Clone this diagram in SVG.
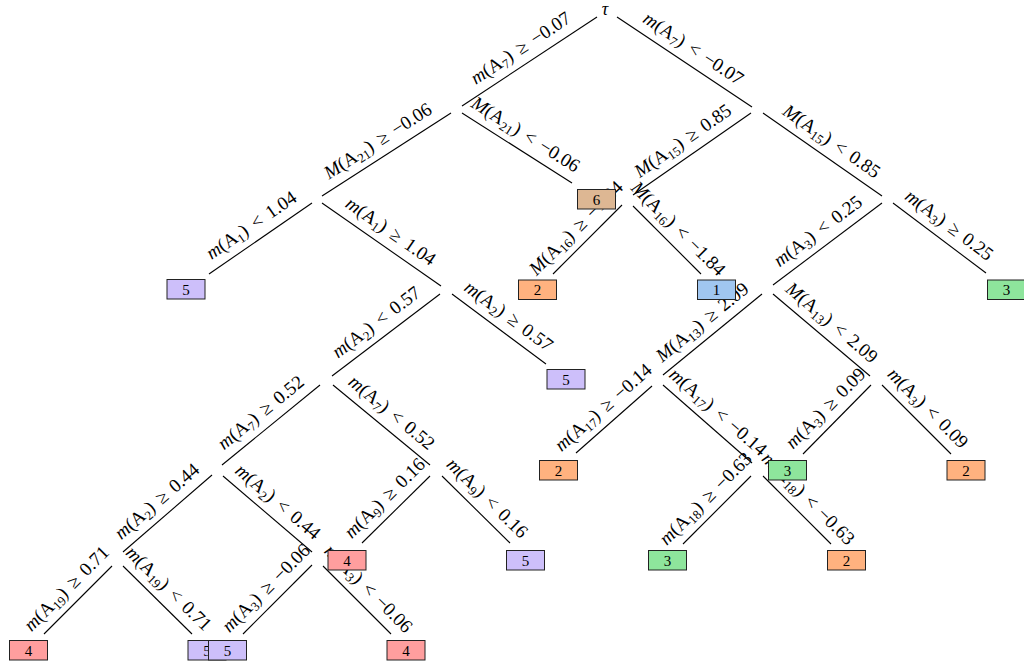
<svg xmlns="http://www.w3.org/2000/svg" width="1024" height="666" viewBox="0 0 1024 666">
<defs>
<style>
.e line{stroke:#000;stroke-width:1.1;fill:none}
.e text{font-family:"Liberation Serif",serif;font-size:19px;text-anchor:middle;fill:#000;word-spacing:2.5px}
.i{font-style:italic}
.s{font-size:13px}
.lf rect{stroke:#222;stroke-width:1}
.lf text{font-family:"Liberation Serif",serif;font-size:15px;text-anchor:middle;fill:#000}
.c1{fill:#a0c6f0}.c2{fill:#ffb27f}.c3{fill:#8ee59c}.c4{fill:#ff9e9e}.c5{fill:#cdbffa}.c6{fill:#ddb793}
</style>
</defs>
<rect width="1024" height="666" fill="#fff"/>
<g id="connectors" class="e">
<line x1="462" y1="106" x2="597" y2="17"/>
<text transform="translate(529.5,61.5) rotate(-33.4)" y="-10"><tspan class="i">m</tspan>(A<tspan class="s" dy="3.5">7</tspan><tspan dy="-3.5">)</tspan> ≥ −0.07</text>
<line x1="617" y1="17" x2="752" y2="107"/>
<text transform="translate(684.5,62) rotate(33.69)" y="-10"><tspan class="i">m</tspan>(A<tspan class="s" dy="3.5">7</tspan><tspan dy="-3.5">)</tspan> &lt; −0.07</text>
<line x1="322" y1="196" x2="451" y2="113"/>
<text transform="translate(386.5,154.5) rotate(-32.76)" y="-10"><tspan class="i">M</tspan>(A<tspan class="s" dy="3.5">21</tspan><tspan dy="-3.5">)</tspan> ≥ −0.06</text>
<line x1="462" y1="113" x2="572" y2="183"/>
<text transform="translate(517,148) rotate(32.47)" y="-10"><tspan class="i">M</tspan>(A<tspan class="s" dy="3.5">21</tspan><tspan dy="-3.5">)</tspan> &lt; −0.06</text>
<line x1="633" y1="195" x2="751" y2="113"/>
<text transform="translate(692,154) rotate(-34.79)" y="-10"><tspan class="i">M</tspan>(A<tspan class="s" dy="3.5">15</tspan><tspan dy="-3.5">)</tspan> ≥ 0.85</text>
<line x1="763" y1="113" x2="882" y2="196"/>
<text transform="translate(822.5,154.5) rotate(34.9)" y="-10"><tspan class="i">M</tspan>(A<tspan class="s" dy="3.5">15</tspan><tspan dy="-3.5">)</tspan> &lt; 0.85</text>
<line x1="209" y1="274" x2="312" y2="203"/>
<text transform="translate(260.5,238.5) rotate(-34.58)" y="-10"><tspan class="i">m</tspan>(A<tspan class="s" dy="3.5">1</tspan><tspan dy="-3.5">)</tspan> &lt; 1.04</text>
<line x1="322" y1="203" x2="441" y2="286"/>
<text transform="translate(381.5,244.5) rotate(34.9)" y="-10"><tspan class="i">m</tspan>(A<tspan class="s" dy="3.5">1</tspan><tspan dy="-3.5">)</tspan> ≥ 1.04</text>
<line x1="553" y1="274" x2="622" y2="205"/>
<text transform="translate(587.5,239.5) rotate(-45)" y="-10"><tspan class="i">M</tspan>(A<tspan class="s" dy="3.5">16</tspan><tspan dy="-3.5">)</tspan> ≥ −1.84</text>
<line x1="633" y1="206" x2="701" y2="274"/>
<text transform="translate(667,240) rotate(45)" y="-10"><tspan class="i">M</tspan>(A<tspan class="s" dy="3.5">16</tspan><tspan dy="-3.5">)</tspan> &lt; −1.84</text>
<line x1="773" y1="285" x2="882" y2="203"/>
<text transform="translate(827.5,244) rotate(-36.96)" y="-10"><tspan class="i">m</tspan>(A<tspan class="s" dy="3.5">3</tspan><tspan dy="-3.5">)</tspan> &lt; 0.25</text>
<line x1="893" y1="203" x2="986" y2="273"/>
<text transform="translate(939.5,238) rotate(36.97)" y="-10"><tspan class="i">m</tspan>(A<tspan class="s" dy="3.5">3</tspan><tspan dy="-3.5">)</tspan> ≥ 0.25</text>
<line x1="332" y1="376" x2="440" y2="294"/>
<text transform="translate(386,335) rotate(-37.21)" y="-10"><tspan class="i">m</tspan>(A<tspan class="s" dy="3.5">2</tspan><tspan dy="-3.5">)</tspan> &lt; 0.57</text>
<line x1="452" y1="294" x2="546" y2="364"/>
<text transform="translate(499,329) rotate(36.68)" y="-10"><tspan class="i">m</tspan>(A<tspan class="s" dy="3.5">2</tspan><tspan dy="-3.5">)</tspan> ≥ 0.57</text>
<line x1="663" y1="375" x2="762" y2="294"/>
<text transform="translate(712.5,334.5) rotate(-39.29)" y="-10"><tspan class="i">M</tspan>(A<tspan class="s" dy="3.5">13</tspan><tspan dy="-3.5">)</tspan> ≥ 2.09</text>
<line x1="773" y1="294" x2="870" y2="376"/>
<text transform="translate(821.5,335) rotate(40.21)" y="-10"><tspan class="i">M</tspan>(A<tspan class="s" dy="3.5">13</tspan><tspan dy="-3.5">)</tspan> &lt; 2.09</text>
<line x1="576" y1="453" x2="652" y2="386"/>
<text transform="translate(614,419.5) rotate(-41.4)" y="-10"><tspan class="i">m</tspan>(A<tspan class="s" dy="3.5">17</tspan><tspan dy="-3.5">)</tspan> ≥ −0.14</text>
<line x1="663" y1="385" x2="752" y2="463"/>
<text transform="translate(707.5,424) rotate(41.23)" y="-10"><tspan class="i">m</tspan>(A<tspan class="s" dy="3.5">17</tspan><tspan dy="-3.5">)</tspan> &lt; −0.14</text>
<line x1="803" y1="454" x2="871" y2="385"/>
<text transform="translate(837,419.5) rotate(-45.42)" y="-10"><tspan class="i">m</tspan>(A<tspan class="s" dy="3.5">3</tspan><tspan dy="-3.5">)</tspan> ≥ 0.09</text>
<line x1="882" y1="385" x2="951" y2="454"/>
<text transform="translate(916.5,419.5) rotate(45)" y="-10"><tspan class="i">m</tspan>(A<tspan class="s" dy="3.5">3</tspan><tspan dy="-3.5">)</tspan> &lt; 0.09</text>
<line x1="222" y1="465" x2="320" y2="385"/>
<text transform="translate(271,425) rotate(-39.23)" y="-10"><tspan class="i">m</tspan>(A<tspan class="s" dy="3.5">7</tspan><tspan dy="-3.5">)</tspan> ≥ 0.52</text>
<line x1="333" y1="385" x2="430" y2="465"/>
<text transform="translate(381.5,425) rotate(39.51)" y="-10"><tspan class="i">m</tspan>(A<tspan class="s" dy="3.5">7</tspan><tspan dy="-3.5">)</tspan> &lt; 0.52</text>
<line x1="362" y1="543" x2="430" y2="476"/>
<text transform="translate(396,509.5) rotate(-44.58)" y="-10"><tspan class="i">m</tspan>(A<tspan class="s" dy="3.5">9</tspan><tspan dy="-3.5">)</tspan> ≥ 0.16</text>
<line x1="442" y1="476" x2="510" y2="543"/>
<text transform="translate(476,509.5) rotate(44.58)" y="-10"><tspan class="i">m</tspan>(A<tspan class="s" dy="3.5">9</tspan><tspan dy="-3.5">)</tspan> &lt; 0.16</text>
<line x1="123" y1="552" x2="212" y2="475"/>
<text transform="translate(167.5,513.5) rotate(-40.87)" y="-10"><tspan class="i">m</tspan>(A<tspan class="s" dy="3.5">2</tspan><tspan dy="-3.5">)</tspan> ≥ 0.44</text>
<line x1="223" y1="476" x2="312" y2="552"/>
<text transform="translate(267.5,514) rotate(40.5)" y="-10"><tspan class="i">m</tspan>(A<tspan class="s" dy="3.5">2</tspan><tspan dy="-3.5">)</tspan> &lt; 0.44</text>
<line x1="44" y1="634" x2="112" y2="566"/>
<text transform="translate(78,600) rotate(-45)" y="-10"><tspan class="i">m</tspan>(A<tspan class="s" dy="3.5">19</tspan><tspan dy="-3.5">)</tspan> ≥ 0.71</text>
<line x1="123" y1="566" x2="192" y2="634"/>
<text transform="translate(157.5,600) rotate(44.58)" y="-10"><tspan class="i">m</tspan>(A<tspan class="s" dy="3.5">19</tspan><tspan dy="-3.5">)</tspan> &lt; 0.71</text>
<line x1="243" y1="634" x2="312" y2="565"/>
<text transform="translate(277.5,599.5) rotate(-45)" y="-10"><tspan class="i">m</tspan>(A<tspan class="s" dy="3.5">3</tspan><tspan dy="-3.5">)</tspan> ≥ −0.06</text>
<line x1="323" y1="566" x2="391" y2="634"/>
<text transform="translate(357,600) rotate(45)" y="-10"><tspan class="i">m</tspan>(A<tspan class="s" dy="3.5">3</tspan><tspan dy="-3.5">)</tspan> &lt; −0.06</text>
<line x1="683" y1="544" x2="751" y2="476"/>
<text transform="translate(717,510) rotate(-45)" y="-10"><tspan class="i">m</tspan>(A<tspan class="s" dy="3.5">18</tspan><tspan dy="-3.5">)</tspan> ≥ −0.63</text>
<line x1="763" y1="476" x2="831" y2="544"/>
<text transform="translate(797,510) rotate(45)" y="-10"><tspan class="i">m</tspan>(A<tspan class="s" dy="3.5">18</tspan><tspan dy="-3.5">)</tspan> &lt; −0.63</text>
</g>
<g id="root"><text x="605" y="15" font-family="Liberation Serif, serif" font-size="18" font-style="italic" text-anchor="middle">τ</text></g>
<g id="leaf-a" class="lf"><rect class="c5" x="167" y="279.5" width="38" height="19.5"/><text x="186" y="294.5">5</text></g>
<g id="leaf-b" class="lf"><rect class="c6" x="577.5" y="189.5" width="38" height="19.5"/><text x="596.5" y="204.5">6</text></g>
<g id="leaf-c" class="lf"><rect class="c2" x="518.5" y="280" width="38" height="19.5"/><text x="537.5" y="295">2</text></g>
<g id="leaf-d" class="lf"><rect class="c1" x="697.5" y="280" width="38" height="19.5"/><text x="716.5" y="295">1</text></g>
<g id="leaf-e" class="lf"><rect class="c3" x="987.5" y="280" width="38" height="19.5"/><text x="1006.5" y="295">3</text></g>
<g id="leaf-f" class="lf"><rect class="c5" x="547" y="369.5" width="38" height="19.5"/><text x="566" y="384.5">5</text></g>
<g id="leaf-g" class="lf"><rect class="c2" x="539.5" y="460.5" width="38" height="19.5"/><text x="558.5" y="475.5">2</text></g>
<g id="leaf-h" class="lf"><rect class="c3" x="768.5" y="460.5" width="38" height="19.5"/><text x="787.5" y="475.5">3</text></g>
<g id="leaf-i" class="lf"><rect class="c2" x="947" y="460.5" width="38" height="19.5"/><text x="966" y="475.5">2</text></g>
<g id="leaf-j" class="lf"><rect class="c4" x="328" y="550.5" width="38" height="19.5"/><text x="347" y="565.5">4</text></g>
<g id="leaf-k" class="lf"><rect class="c5" x="506.5" y="550.5" width="38" height="19.5"/><text x="525.5" y="565.5">5</text></g>
<g id="leaf-l" class="lf"><rect class="c3" x="648.5" y="550.5" width="38" height="19.5"/><text x="667.5" y="565.5">3</text></g>
<g id="leaf-m" class="lf"><rect class="c2" x="827.5" y="550.5" width="38" height="19.5"/><text x="846.5" y="565.5">2</text></g>
<g id="leaf-n" class="lf"><rect class="c4" x="9.5" y="640.5" width="38" height="19.5"/><text x="28.5" y="655.5">4</text></g>
<g id="leaf-o" class="lf"><rect class="c5" x="188" y="640.5" width="38" height="19.5"/><text x="207" y="655.5">5</text></g>
<g id="leaf-p" class="lf"><rect class="c5" x="208.5" y="640.5" width="38" height="19.5"/><text x="227.5" y="655.5">5</text></g>
<g id="leaf-q" class="lf"><rect class="c4" x="387" y="640.5" width="38" height="19.5"/><text x="406" y="655.5">4</text></g>
</svg>
